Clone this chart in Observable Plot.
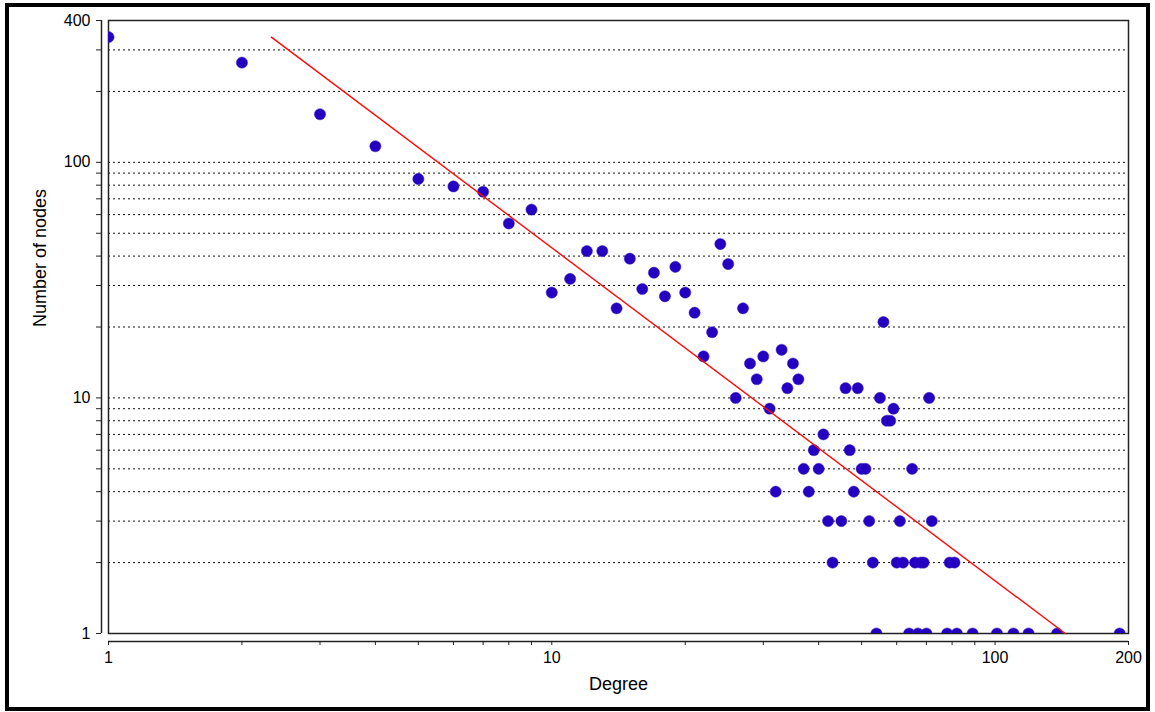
<!DOCTYPE html>
<html>
<head>
<meta charset="utf-8">
<script src="https://cdn.jsdelivr.net/npm/d3@7"></script>
<script src="https://cdn.jsdelivr.net/npm/@observablehq/plot@0.6"></script>
<style>
  html, body { margin: 0; padding: 0; background: #fff; }
  #wrap { position: relative; width: 1155px; height: 712px; }
  #border { position: absolute; left: 5px; top: 3px; width: 1145px; height: 708px; box-sizing: border-box; border: 4px solid #000; pointer-events: none; }
</style>
</head>
<body>
<div id="wrap"><div id="border"></div></div>
<script>
// Degree distribution (degree -> number of nodes)
const degrees = [1, 2, 3, 4, 5, 6, 7, 8, 9, 10, 11, 12, 13, 14, 15, 16, 17, 18, 19, 20,
  21, 22, 23, 24, 25, 26, 27, 28, 29, 30, 31, 32, 33, 34, 35, 36, 37, 38, 39, 40,
  41, 42, 43, 45, 46, 47, 48, 49, 50, 51, 52, 53, 54, 55, 56, 57, 58, 59, 60, 61,
  62, 64, 65, 66, 67, 68, 69, 70, 71, 72, 78, 79, 81, 82, 89, 101, 110, 119, 138, 191];
const nodeCounts = [340, 265, 160, 117, 85, 79, 75, 55, 63, 28, 32, 42, 42, 24, 39, 29, 34, 27, 36, 28,
  23, 15, 19, 45, 37, 10, 24, 14, 12, 15, 9, 4, 16, 11, 14, 12, 5, 4, 6, 5,
  7, 3, 2, 3, 11, 6, 4, 11, 5, 5, 3, 2, 1, 10, 21, 8, 8, 9, 2, 3,
  2, 1, 5, 2, 1, 2, 2, 1, 10, 3, 1, 2, 2, 1, 1, 1, 1, 1, 1, 1];

// Power-law fit line endpoints
const fitDegree = [2.33, 144];
const fitCount = [340, 1];

// Axis ticks / labels / gridlines
const xTicks = [1, 2, 3, 4, 5, 6, 7, 8, 9, 10, 20, 30, 40, 50, 60, 70, 80, 90, 100, 200];
const xLabels = [1, 10, 100, 200];
const yGrid = [2, 3, 4, 5, 6, 7, 8, 9, 10, 20, 30, 40, 50, 60, 70, 80, 90, 100, 200, 300];
const yTicks = [1, ...yGrid, 400];
const yLabels = [1, 10, 100, 400];

const points = degrees.map((d, i) => ({degree: d, count: nodeCounts[i]}));
const fit = fitDegree.map((d, i) => ({degree: d, count: fitCount[i]}));

const chart = Plot.plot({
  width: 1155,
  height: 712,
  marginLeft: 108,
  marginRight: 27,
  marginTop: 20,
  marginBottom: 79,
  x: {type: "log", domain: [1, 200]},
  y: {type: "log", domain: [1, 400]},
  style: {fontFamily: "'Liberation Sans', Arial, sans-serif", fontSize: "16px", color: "#000", background: "transparent"},
  marks: [
    Plot.ruleY(yGrid, {stroke: "#111", strokeWidth: 1, strokeDasharray: "2,3"}),
    Plot.frame({stroke: "#222", strokeWidth: 1.5}),
    Plot.ruleX([1], {dx: -7, stroke: "#222", strokeWidth: 1.5}),
    Plot.ruleY([1], {dy: 8, stroke: "#222", strokeWidth: 1.5}),
    Plot.axisY({ticks: yTicks, tickFormat: d => yLabels.includes(d) ? String(d) : "", dx: -7, tickSize: 5, tickPadding: 6, label: null, stroke: "#222"}),
    Plot.axisX({ticks: xTicks, tickFormat: d => xLabels.includes(d) ? String(d) : "", dy: 8, tickSize: 4, tickPadding: 6, label: null, stroke: "#222"}),
    Plot.dot(points, {x: "degree", y: "count", r: 5.6, fill: "#2400c0", stroke: "#3a20c8", strokeWidth: 0.5, clip: true}),
    Plot.line(fit, {x: "degree", y: "count", stroke: "#ff0a0a", strokeWidth: 1.4}),
    Plot.text(["Number of nodes"], {frameAnchor: "left", dx: -68, rotate: -90, fontSize: 18}),
    Plot.text(["Degree"], {frameAnchor: "bottom", dy: 56, fontSize: 18})
  ]
});
document.getElementById("wrap").appendChild(chart);
chart.style.position = "absolute";
chart.style.left = "0px";
chart.style.top = "0px";
</script>
</body>
</html>
